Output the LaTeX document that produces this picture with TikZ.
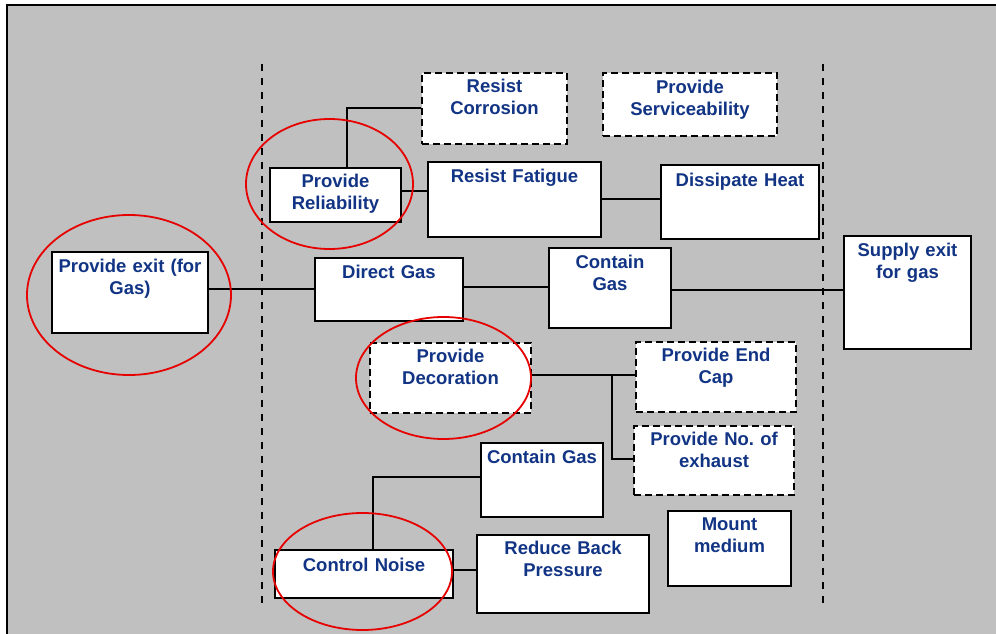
\documentclass[tikz,border=0pt]{standalone}
\usepackage{fontspec}
\setmainfont{Liberation Sans}
\usetikzlibrary{shapes.geometric}
\definecolor{navy}{RGB}{18,52,132}
\definecolor{bggray}{RGB}{192,192,192}
\definecolor{ringred}{RGB}{230,0,0}
\tikzset{
  fbox/.style={draw=black, fill=white, line width=1.9pt, rectangle, inner xsep=0pt, inner ysep=0pt,
    anchor=north, align=center, text=navy,
    font=\bfseries\fontsize{18.5}{21.7}\selectfont},
  dbox/.style={fbox, dash pattern=on 7pt off 4pt},
  conn/.style={draw=black, line width=1.7pt},
  vdash/.style={draw=black, line width=2pt, dash pattern=on 7pt off 7pt},
  ring/.style={ellipse, draw=ringred, line width=1.8pt, inner sep=0pt}
}
\frenchspacing
\begin{document}
\begin{tikzpicture}[x=1pt,y=-1pt]
\useasboundingbox (0,0) rectangle (996,634);
\clip (0,0) rectangle (996,634);
\fill[white] (0,0) rectangle (996,634);
\draw[fill=bggray, line width=2pt] (7,5) rectangle (1010,650);
% dashed boundaries
\coordinate (l1) at (262,64); \coordinate (l2) at (262,604);
\coordinate (r1) at (823,64); \coordinate (r2) at (823,604);
\draw[vdash] (l1) -- (l2);
\draw[vdash] (r1) -- (r2);
% boxes
\node[fbox, minimum width=156pt, text width=154pt, text height=21pt, text depth=60pt] (exit) at (130,251) {Provide exit (for\\Gas)};
\node[fbox, minimum width=131pt, text width=129pt, text height=20pt, text depth=34pt] (rel) at (335.5,167) {Provide\\Reliability};
\node[dbox, minimum width=145pt, text width=143pt, text height=20pt, text depth=51pt] (corr) at (494.5,72) {Resist\\Corrosion};
\node[fbox, minimum width=173pt, text width=171pt, text height=21pt, text depth=54pt] (fat) at (514.5,161) {Resist Fatigue};
\node[dbox, minimum width=174pt, text width=172pt, text height=21pt, text depth=42pt] (serv) at (690,72) {Provide\\Serviceability};
\node[fbox, minimum width=158pt, text width=156pt, text height=22pt, text depth=52pt] (heat) at (740,164) {Dissipate Heat};
\node[fbox, minimum width=148pt, text width=146pt, text height=21pt, text depth=42pt] (dgas) at (389,257) {Direct Gas};
\node[fbox, minimum width=122pt, text width=120pt, text height=21pt, text depth=59pt] (cgas) at (610,247) {Contain\\Gas};
\node[fbox, minimum width=127pt, text width=125pt, text height=21pt, text depth=92pt] (supply) at (907.5,235) {Supply exit\\for gas};
\node[dbox, minimum width=161pt, text width=159pt, text height=20pt, text depth=50pt] (deco) at (450.5,342) {Provide\\Decoration};
\node[dbox, minimum width=160pt, text width=158pt, text height=20pt, text depth=50pt] (endcap) at (716,341) {Provide End\\Cap};
\node[dbox, minimum width=160pt, text width=158pt, text height=20pt, text depth=49pt] (noexh) at (714,425) {Provide No.\ of\\exhaust};
\node[fbox, minimum width=122pt, text width=120pt, text height=21pt, text depth=53pt] (cgas2) at (542,442) {Contain Gas};
\node[fbox, minimum width=123pt, text width=121pt, text height=20pt, text depth=55pt] (mount) at (729.5,510) {Mount\\medium};
\node[fbox, minimum width=178pt, text width=176pt, text height=22pt, text depth=26pt] (noise) at (364,549) {Control Noise};
\node[fbox, minimum width=172pt, text width=170pt, text height=20pt, text depth=58pt] (back) at (563,534) {Reduce Back\\Pressure};
% connectors
\draw[conn] (exit.east |- 0,289) -- (dgas.west |- 0,289);
\draw[conn] (dgas.east |- 0,287) -- (cgas.west |- 0,287);
\draw[conn] (cgas.east |- 0,290) -- (supply.west |- 0,290);
\draw[conn] (347,0 |- rel.north) |- (corr.west |- 0,108);
\draw[conn] (rel.east |- 0,191) -- (fat.west |- 0,191);
\draw[conn] (fat.east |- 0,199) -- (heat.west |- 0,199);
\draw[conn] (deco.east |- 0,375) -- (endcap.west |- 0,375);
\coordinate (br) at (612,375);
\draw[conn] (br) |- (noexh.west |- 0,459);
\draw[conn] (373,0 |- noise.north) |- (cgas2.west |- 0,477);
\draw[conn] (noise.east |- 0,570) -- (back.west |- 0,570);
% red rings
\node[ring, minimum width=204pt, minimum height=160pt] (ring1) at (129,295) {};
\node[ring, minimum width=167pt, minimum height=130pt] (ring2) at (329.5,184) {};
\node[ring, minimum width=175pt, minimum height=122pt] (ring3) at (443.5,378) {};
\node[ring, minimum width=179pt, minimum height=117pt] (ring4) at (362.5,571.5) {};
\end{tikzpicture}
\end{document}
